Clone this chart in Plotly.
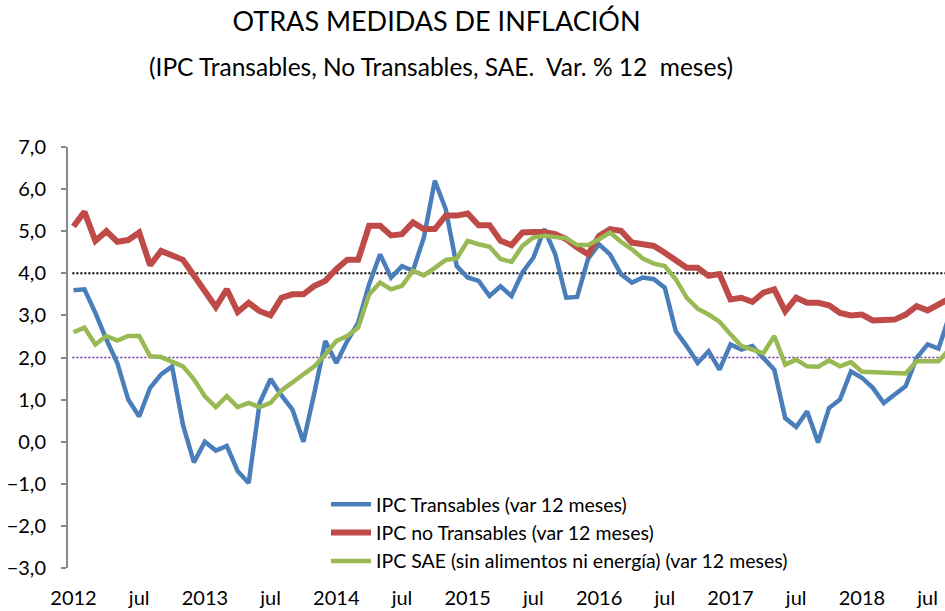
import plotly.graph_objects as go

# Monthly observations Jan-2012 .. Sep-2018 (index 0 = Jan 2012)
months = [f"{y}-{m:02d}" for y in range(2012, 2019) for m in range(1, 13)][:81]

ipc_transables = [
    3.6, 3.62, 3.06, 2.43, 1.87, 1.0, 0.6, 1.28, 1.6, 1.79, 0.4, -0.49,
    0.0, -0.21, -0.1, -0.7, -0.98, 0.92, 1.49, 1.1, 0.76, 0.0, 1.16, 2.39,
    1.87, 2.39, 2.83, 3.74, 4.45, 3.9, 4.17, 4.06, 4.85, 6.2, 5.52, 4.17,
    3.9, 3.82, 3.46, 3.69, 3.46, 4.02, 4.37, 5.05, 4.45, 3.42, 3.44, 4.35,
    4.69, 4.45, 3.98, 3.78, 3.9, 3.86, 3.66, 2.63, 2.27, 1.87, 2.15, 1.71,
    2.31, 2.19, 2.27, 1.99, 1.71, 0.56, 0.35, 0.72, -0.02, 0.8, 1.0, 1.67,
    1.52, 1.28, 0.92, 1.12, 1.32, 1.99, 2.31, 2.21, 3.0,
]
ipc_no_transables = [
    5.11, 5.46, 4.77, 5.0, 4.75, 4.79, 4.97, 4.19, 4.53, 4.43, 4.32, 3.95,
    3.58, 3.2, 3.62, 3.08, 3.3, 3.1, 3.0, 3.42, 3.5, 3.5, 3.7, 3.82,
    4.1, 4.32, 4.32, 5.13, 5.13, 4.9, 4.93, 5.21, 5.05, 5.05, 5.37, 5.37,
    5.42, 5.14, 5.14, 4.77, 4.67, 4.97, 4.98, 4.98, 4.93, 4.81, 4.61, 4.45,
    4.89, 5.05, 5.01, 4.73, 4.69, 4.65, 4.49, 4.32, 4.13, 4.13, 3.94, 3.98,
    3.38, 3.42, 3.32, 3.54, 3.62, 3.1, 3.42, 3.3, 3.3, 3.24, 3.06, 3.0,
    3.02, 2.88, 2.88, 2.9, 3.02, 3.22, 3.12, 3.26, 3.4,
]
ipc_sae = [
    2.6, 2.71, 2.31, 2.51, 2.4, 2.51, 2.51, 2.03, 2.01, 1.91, 1.79, 1.48,
    1.08, 0.82, 1.08, 0.82, 0.92, 0.82, 0.92, 1.22, 1.4, 1.6, 1.79, 2.07,
    2.39, 2.51, 2.71, 3.5, 3.78, 3.62, 3.7, 4.06, 3.95, 4.13, 4.32, 4.35,
    4.77, 4.69, 4.63, 4.34, 4.27, 4.65, 4.85, 4.89, 4.87, 4.83, 4.67, 4.67,
    4.81, 4.97, 4.75, 4.57, 4.35, 4.23, 4.17, 3.86, 3.42, 3.16, 3.02, 2.85,
    2.55, 2.27, 2.19, 2.1, 2.51, 1.83, 1.95, 1.79, 1.78, 1.93, 1.79, 1.89,
    1.66, 1.65, 1.62, 1.62, 1.62, 1.91, 1.91, 1.91, 2.2,
]

tick_positions = list(range(0, 79, 6))
tick_labels = ["2012", "jul", "2013", "jul", "2014", "jul", "2015", "jul",
               "2016", "jul", "2017", "jul", "2018", "jul"]
y_ticks = list(range(-3, 8))
meta_line = 4.0
target_line = 2.0

series_names = [
    "IPC Transables (var 12 meses)",
    "IPC no Transables (var 12 meses)",
    "IPC SAE (sin alimentos ni energía) (var 12 meses)",
]

FONT = "Lato"
x_idx = list(range(len(months)))

fig = go.Figure()
fig.add_trace(go.Scatter(x=x_idx, y=ipc_transables, mode="lines", name=series_names[0],
                         line=dict(color="#4A7EBB", width=4.5)))
fig.add_trace(go.Scatter(x=x_idx, y=ipc_no_transables, mode="lines", name=series_names[1],
                         line=dict(color="#BE4B48", width=6)))
fig.add_trace(go.Scatter(x=x_idx, y=ipc_sae, mode="lines", name=series_names[2],
                         line=dict(color="#98B954", width=4.5)))

x_range = [-0.5, 79.59]

fig.add_shape(type="line", xref="x domain", yref="y", x0=0.005, x1=1, y0=meta_line, y1=meta_line,
              line=dict(color="black", width=2, dash="2px,2px"), layer="below")
fig.add_shape(type="line", xref="x domain", yref="y", x0=0.005, x1=1, y0=target_line, y1=target_line,
              line=dict(color="#7030A0", width=1.5, dash="2px,2px"), layer="below")

fig.update_layout(
    width=945, height=611,
    margin=dict(l=68, r=0, t=147, b=43),
    paper_bgcolor="white", plot_bgcolor="white",
    separators=",.",
    font=dict(family=FONT, color="black"),
    title=dict(text="OTRAS MEDIDAS DE INFLACIÓN", x=436.5 / 945, xanchor="center",
               y=1 - 22 / 611, yanchor="middle", yref="container",
               font=dict(family=FONT, size=27, color="black")),
    annotations=[dict(text="(IPC Transables, No Transables, SAE.  Var. % 12  meses)",
                      xref="paper", yref="paper", x=(441 - 68) / 877, y=(568 - 66) / 421,
                      xanchor="center", yanchor="middle", showarrow=False,
                      font=dict(family=FONT, size=24.5, color="black"))],
    showlegend=True,
    legend=dict(x=(326 - 68) / 877, y=(568 - 485) / 421, xanchor="left", yanchor="top",
                bgcolor="rgba(0,0,0,0)", font=dict(family=FONT, size=19.5, color="black"),
                itemwidth=40),
    xaxis=dict(range=x_range, showgrid=False, zeroline=False, showline=False,
               tickmode="array", tickvals=tick_positions, ticktext=tick_labels,
               ticks="", tickfont=dict(family=FONT, size=20, color="black"),
               ticklabelstandoff=16),
    xaxis2=dict(range=x_range, overlaying="x", anchor="free", position=0.3,
                showgrid=False, zeroline=False, showline=True, linecolor="#898989", linewidth=2,
                tickmode="array", tickvals=[p - 0.5 for p in tick_positions[1:]] + [78 + 5.5],
                ticks="outside", ticklen=6, tickwidth=2, tickcolor="#898989",
                showticklabels=False, side="bottom"),
    yaxis=dict(range=[-3, 7], showgrid=False, zeroline=False, showline=True,
               linecolor="#898989", linewidth=2, ticks="outside", ticklen=5, tickwidth=2,
               tickcolor="#898989", tickmode="array", tickvals=y_ticks, tickformat=".1f",
               tickfont=dict(family=FONT, size=20, color="black"), ticklabelstandoff=11),
)

fig.write_html(
    "out.html",
    config={"displayModeBar": False},
    post_script="document.body.style.margin='0';document.body.style.overflow='hidden';",
)
